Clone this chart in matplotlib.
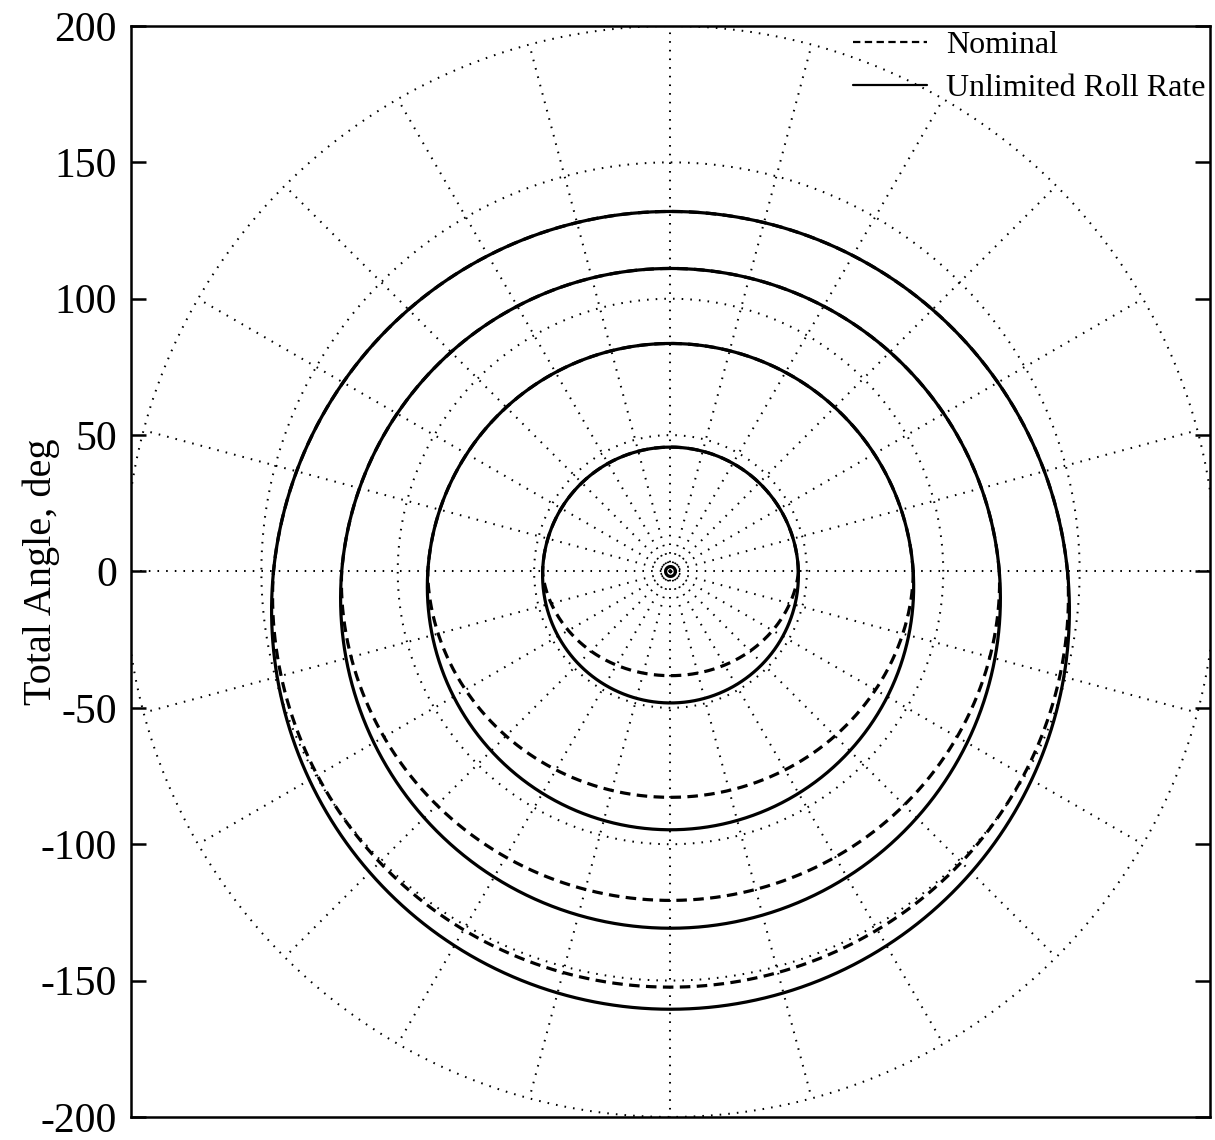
import numpy as np
import matplotlib
matplotlib.use("Agg")
import matplotlib.pyplot as plt

plt.rcParams["font.family"] = ["Liberation Serif", "DejaVu Serif"]
plt.rcParams["axes.unicode_minus"] = False

# Polar grid
grid_radii = [50, 100, 150, 200]
spoke_angles_deg = list(range(0, 360, 15))

# Trajectory rings: upper crossing and lower crossing of the vertical axis (deg)
ring_top = [132.0, 111.1, 83.6, 45.6]
unlimited_bottom = [-160.5, -130.8, -94.7, -48.2]
nominal_bottom = [-152.4, -120.6, -82.8, -38.2]
center_ring_radius = 1.8

y_ticks = [200, 150, 100, 50, 0, -50, -100, -150, -200]
y_tick_labels = ["200", "150", "100", "50", "0", "-50", "-100", "-150", "-200"]

fig = plt.figure(figsize=(12.15, 11.4), dpi=100)
ax = fig.add_axes([0.1078, 0.0202, 0.8881, 0.9570])

dot_style = dict(color="black", lw=1.45, linestyle=(0, (0.8, 3.5)), zorder=1)
phi = np.linspace(0, 2 * np.pi, 1441)

for r in grid_radii:
    ax.plot(r * np.cos(phi), r * np.sin(phi), **dot_style)
for a in spoke_angles_deg:
    t = np.deg2rad(a)
    ax.plot([0, grid_radii[-1] * np.cos(t)], [0, grid_radii[-1] * np.sin(t)], **dot_style)


def ring_radius(top, bottom):
    """Polar radius of the circle through the upper and lower crossings."""
    yc = 0.5 * (top + bottom)
    R = 0.5 * (top - bottom)
    s, c = np.sin(phi), np.cos(phi)
    return yc * s + np.sqrt(R ** 2 - (yc * c) ** 2)


lw_curve = 2.3
for i, (top, ub, nb) in enumerate(zip(ring_top, unlimited_bottom, nominal_bottom)):
    r_u = ring_radius(top, ub)
    # nominal case follows the same ring above the horizontal axis and
    # tightens toward its own lower crossing below it
    k = nb / ub
    lower = np.clip(-np.sin(phi), 0, None)
    r_n = r_u * (1 - (1 - k) * lower ** 1.2)
    ax.plot(r_u * np.cos(phi), r_u * np.sin(phi), color="black", lw=lw_curve,
            solid_capstyle="round", zorder=3,
            label="Unlimited Roll Rate" if i == 0 else None)
    ax.plot(r_n * np.cos(phi), r_n * np.sin(phi), color="black", lw=lw_curve,
            linestyle=(0, (3.3, 2.0)), zorder=4,
            label="Nominal" if i == 0 else None)

ax.plot(center_ring_radius * np.cos(phi), center_ring_radius * np.sin(phi),
        color="black", lw=lw_curve, zorder=3)

ax.set_xlim(-197.8, 197.8)
ax.set_ylim(-200, 200)
ax.set_xticks([])
ax.set_yticks(y_ticks)
ax.set_yticklabels(y_tick_labels)
ax.tick_params(axis="y", direction="in", length=11, width=1.8, labelsize=30,
               pad=10, right=True, left=True)
for sp in ax.spines.values():
    sp.set_linewidth(1.8)

ax.set_ylabel("Total Angle, deg", fontsize=29)
ax.yaxis.set_label_coords(-0.066, 0.5)

handles, labels = ax.get_legend_handles_labels()
order = [labels.index("Nominal"), labels.index("Unlimited Roll Rate")]
leg = ax.legend([handles[j] for j in order], [labels[j] for j in order],
                loc="upper right", frameon=False,
                fontsize=23, handlelength=2.3, handletextpad=0.6,
                borderaxespad=0.0, borderpad=0.15, labelspacing=0.42)
for line in leg.get_lines():
    line.set_linewidth(1.6)

fig.savefig("out.png", dpi=100, facecolor="white")
